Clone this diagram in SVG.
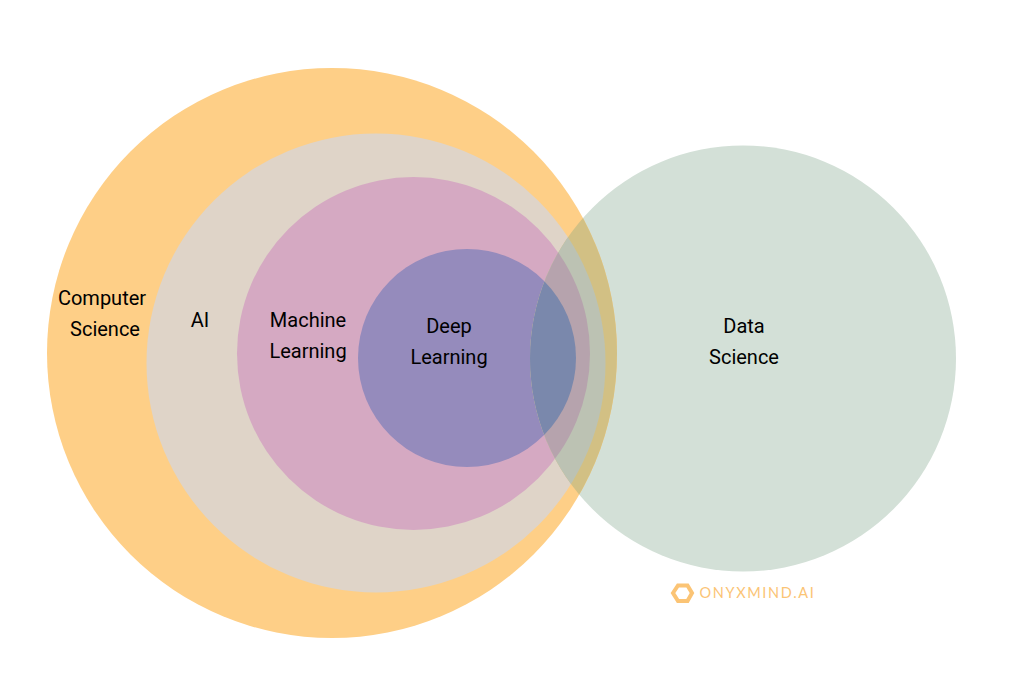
<svg xmlns="http://www.w3.org/2000/svg" width="1024" height="683" viewBox="0 0 1024 683">
<style>
text{font-family:Roboto,"Liberation Sans",sans-serif;font-size:20px;fill:#000;text-anchor:middle}
text.logo{font-family:Lato,"Liberation Sans",sans-serif;font-weight:400;font-size:14.5px;letter-spacing:1.65px;fill:#fbc475;text-anchor:start}
</style>
<defs>
<clipPath id="ds"><circle cx="743" cy="358.500" r="213"/></clipPath>
</defs>
<rect width="1024" height="683" fill="#fff"/>
<circle id="data-science-base" cx="743" cy="358.500" r="213" fill="#d3e0d7"/>
<g id="computer-science"><circle cx="332" cy="353" r="285" fill="#fecf87"/><text x="102" y="305">Computer</text><text x="105" y="336">Science</text></g>
<g id="ai"><circle cx="376" cy="363" r="229.500" fill="#dfd4c8"/><text x="200" y="327">AI</text></g>
<g id="machine-learning"><circle cx="413.500" cy="353.500" r="176.500" fill="#d5a9c2"/><text x="308" y="327">Machine</text><text x="308" y="358">Learning</text></g>
<g id="deep-learning"><circle cx="467" cy="358" r="109" fill="#958bbc"/><text x="449" y="333">Deep</text><text x="449" y="364">Learning</text></g>
<g id="data-science">
<g clip-path="url(#ds)"><circle cx="332" cy="353" r="285" fill="#d2c084"/><circle cx="376" cy="363" r="229.500" fill="#bcc2b3"/><circle cx="413.500" cy="353.500" r="176.500" fill="#b6a3ad"/><circle cx="467" cy="358" r="109" fill="#7a88ac"/></g>
<text x="744" y="333">Data</text><text x="744" y="364">Science</text></g>
<g id="logo"><polygon points="673,593 678,585.500 687.500,585.500 692,593 687.500,601 678,601" fill="none" stroke="#fbc475" stroke-width="4"/><text class="logo" x="699.500" y="598">ONYXMIND.AI</text></g>
</svg>
